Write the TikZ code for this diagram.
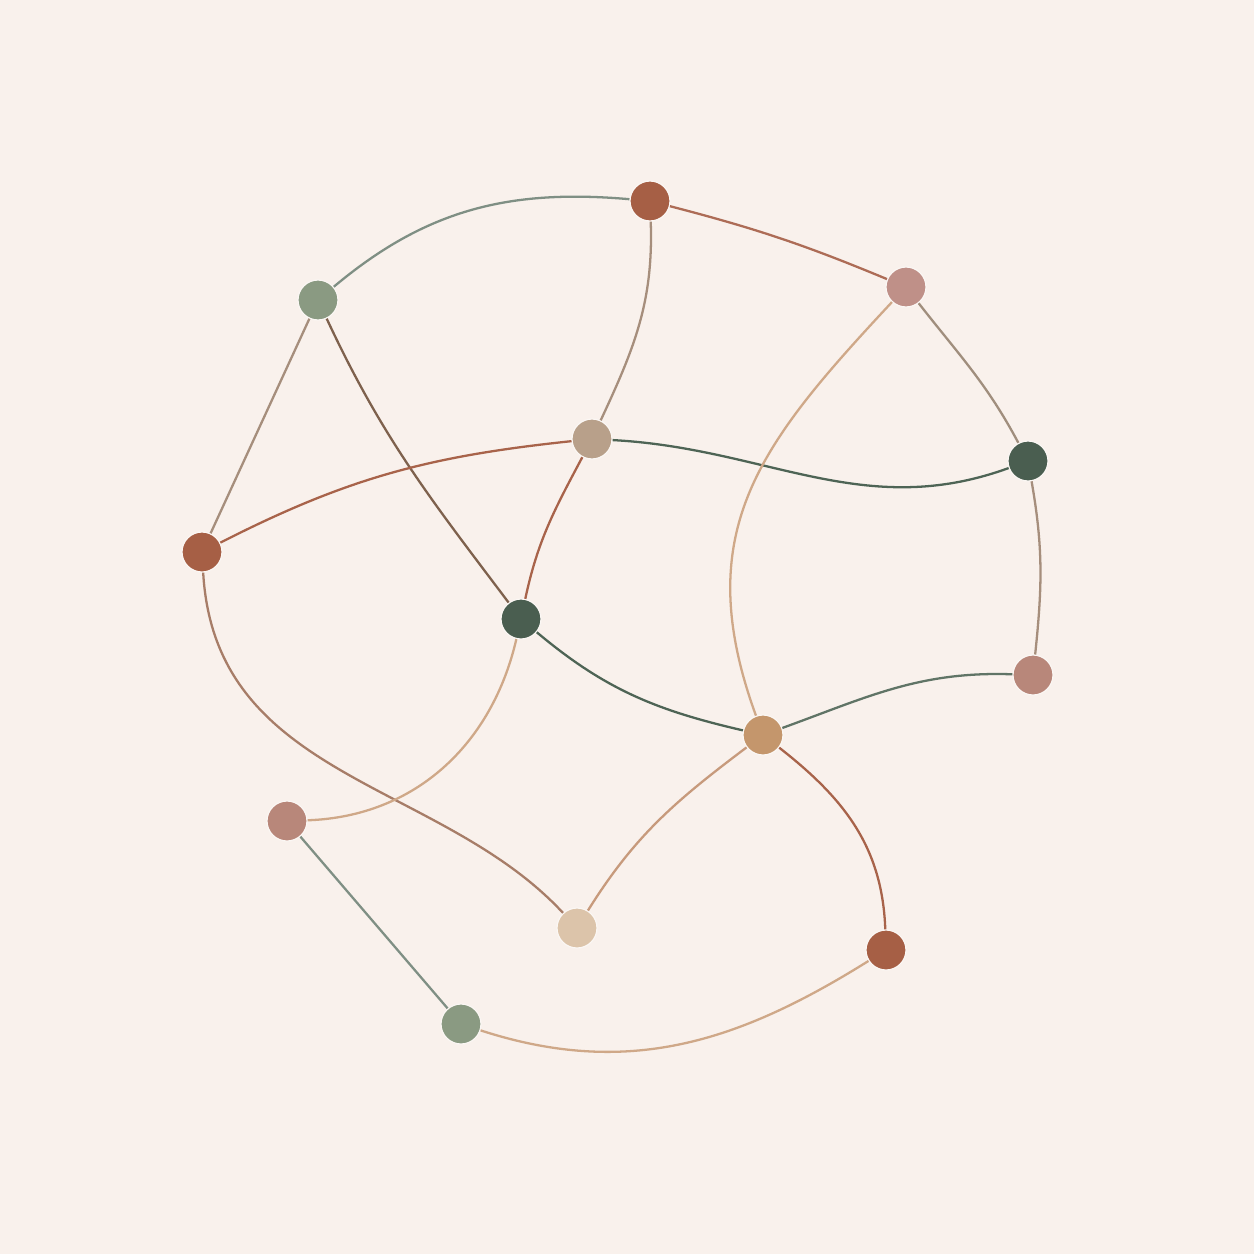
\documentclass[tikz,border=0pt]{standalone}
\usepackage{xcolor}
\usepackage{tikz}
\usetikzlibrary{shapes,arrows}
\definecolor{paper}{HTML}{F9F1EC}
\definecolor{rust}{HTML}{A65F45}
\definecolor{sage}{HTML}{8A9A82}
\definecolor{rose}{HTML}{BF9088}
\definecolor{roseDark}{HTML}{B8877A}
\definecolor{tan}{HTML}{B8A08A}
\definecolor{pine}{HTML}{4A5E50}
\definecolor{caramel}{HTML}{C4966C}
\definecolor{sand}{HTML}{DCC4AA}
\definecolor{linkGrey}{HTML}{7F8F84}
\definecolor{linkRust}{HTML}{A8634A}
\definecolor{linkBrown}{HTML}{A68E7C}
\definecolor{linkTan}{HTML}{CFA888}
\definecolor{linkPine}{HTML}{4E6455}
\tikzstyle{dot} = [circle, draw=white!40!paper, line width=0.35pt,
    minimum size=0.4cm, inner sep=0pt]
\tikzstyle{link} = [draw, line width=0.65pt]

\begin{document}
\begin{tikzpicture}[x=0.01cm, y=-0.01cm]
    \fill [paper] (0,0) rectangle (1254,1254);
    % Place nodes
    \node [dot, fill=rust] (topRust) at (650,201) {};
    \node [dot, fill=sage] (upperSage) at (318,300) {};
    \node [dot, fill=rose] (upperRose) at (906,287) {};
    \node [dot, fill=tan] (centerTan) at (592,439) {};
    \node [dot, fill=pine] (rightPine) at (1028,461) {};
    \node [dot, fill=rust] (leftRust) at (202,552) {};
    \node [dot, fill=pine] (centerPine) at (521,619) {};
    \node [dot, fill=roseDark] (rightRose) at (1033,675) {};
    \node [dot, fill=caramel] (lowerCaramel) at (763,735) {};
    \node [dot, fill=roseDark] (lowerRose) at (287,821) {};
    \node [dot, fill=sand] (bottomSand) at (577,928) {};
    \node [dot, fill=rust] (bottomRust) at (886,950) {};
    \node [dot, fill=sage] (bottomSage) at (461,1024) {};

    % Draw links
    \path [link, linkGrey] (upperSage) to[out=40, in=175] (topRust);
    \path [link, linkRust!80!rose] (topRust) to[bend left=4] (upperRose);
    \path [link, linkBrown] (topRust) to[out=-88, in=65] (centerTan);
    \path [link, linkBrown] (upperSage) -- (leftRust);
    \path [link, linkRust!55!pine] (upperSage) to[out=-65, in=127] (centerPine);
    \path [link, linkRust] (leftRust) to[out=27, in=186] (centerTan);
    \path [link, linkPine] (centerTan) to[out=-3, in=200] (rightPine);
    \path [link, linkRust] (centerTan) to[out=-118, in=78] (centerPine);
    \path [link, linkBrown!85!linkGrey] (upperRose) to[out=-52, in=118] (rightPine);
    \path [link, linkTan] (upperRose) to[out=-133, in=110, looseness=1.15] (lowerCaramel);
    \path [link, linkBrown] (rightPine) to[out=-80, in=84] (rightRose);
    \path [link, linkPine] (centerPine) to[out=-40, in=167] (lowerCaramel);
    \path [link, linkPine!90!white] (lowerCaramel) to[out=20, in=178] (rightRose);
    \path [link, linkBrown!60!linkRust] (leftRust) .. controls (215,780) and (440,780) .. (bottomSand);
    \path [link, linkTan] (centerPine) to[out=-103, in=2] (lowerRose);
    \path [link, linkGrey] (lowerRose) -- (bottomSage);
    \path [link, linkTan!80!linkRust] (lowerCaramel) to[out=-143, in=58] (bottomSand);
    \path [link, linkRust] (lowerCaramel) to[out=-38, in=92] (bottomRust);
    \path [link, linkTan] (bottomRust) to[out=-148, in=-18] (bottomSage);
\end{tikzpicture}
\end{document}
